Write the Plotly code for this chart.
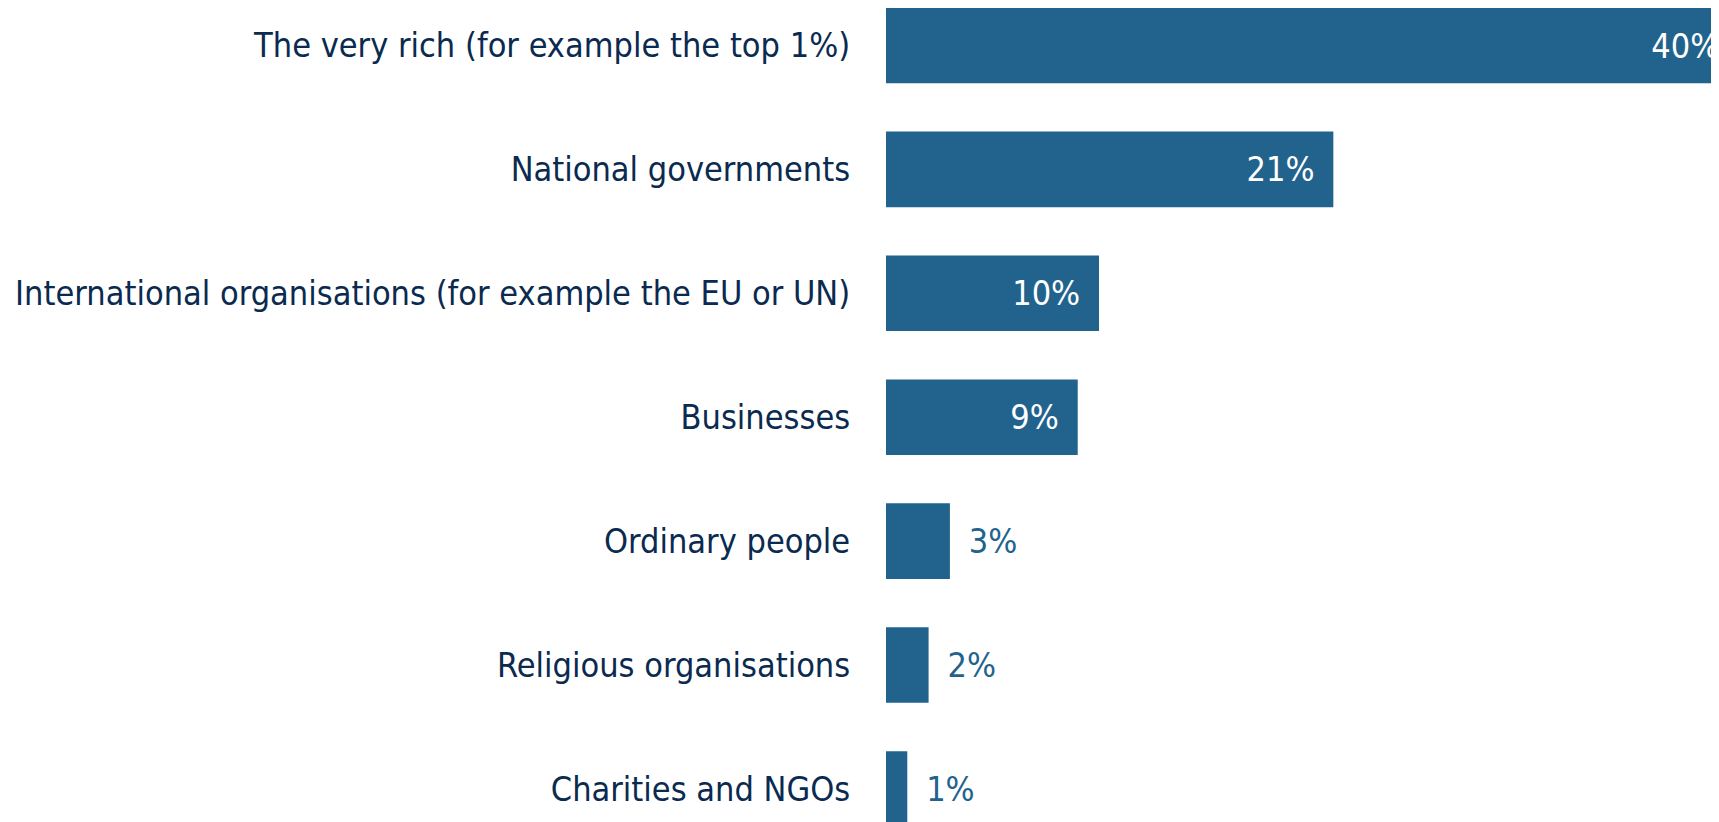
import plotly.graph_objects as go

categories = [
    "The very rich (for example the top 1%)",
    "National governments",
    "International organisations (for example the EU or UN)",
    "Businesses",
    "Ordinary people",
    "Religious organisations",
    "Charities and NGOs",
]
values = [40, 21, 10, 9, 3, 2, 1]
positions = ["inside", "inside", "inside", "inside", "outside", "outside", "outside"]

BAR = "#21638D"
NAVY = "#0B2A4F"
FONT = "DejaVu Sans Condensed"
GAP = "\u00a0\u2009"

labels = [f"{v}%" + GAP if p == "inside" else GAP + f"{v}%"
          for v, p in zip(values, positions)]

fig = go.Figure(go.Bar(
    x=values,
    y=list(range(len(categories))),
    orientation="h",
    marker=dict(color=BAR, line=dict(width=0)),
    width=0.61,
    text=labels,
    textposition=positions,
    insidetextanchor="end",
    insidetextfont=dict(color="white", family=FONT, size=34),
    outsidetextfont=dict(color=BAR, family=FONT, size=34),
    cliponaxis=True,
    constraintext="none",
))

fig.update_layout(
    width=1719, height=814,
    margin=dict(l=878, r=0, t=0, b=0),
    paper_bgcolor="white", plot_bgcolor="white",
    showlegend=False,
    font=dict(family=FONT, color=NAVY, size=34),
    xaxis=dict(range=[0, 39.48], visible=False, fixedrange=True),
    yaxis=dict(
        range=[6.267, -0.3027],
        tickmode="array",
        tickvals=list(range(len(categories))),
        ticktext=categories,
        ticks="outside", ticklen=28, tickcolor="rgba(0,0,0,0)",
        showgrid=False, zeroline=False, showline=False,
        tickfont=dict(family=FONT, color=NAVY, size=34),
    ),
)

fig.write_html("out.html")
